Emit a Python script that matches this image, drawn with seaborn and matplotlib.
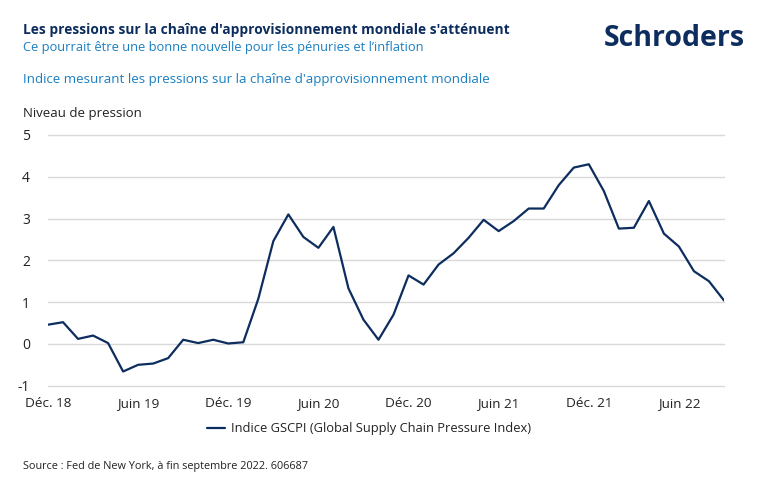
"""
GSCPI - pressions sur la chaîne d'approvisionnement mondiale (Schroders style)
"""
import pandas as pd
import matplotlib.pyplot as plt
import seaborn as sns

sns.set_theme(style="white")
plt.rcParams["font.family"] = ["Open Sans", "DejaVu Sans"]

NAVY = "#0d2d5e"
BLUE = "#1a7fc1"
TEXT = "#222222"

# monthly values, Dec 2018 -> Sep 2022
months = pd.date_range("2018-12-01", "2022-09-01", freq="MS")
gscpi = [0.46, 0.52, 0.12, 0.20, 0.02, -0.66, -0.50, -0.47, -0.34, 0.10, 0.02, 0.10,
         0.01, 0.04, 1.08, 2.46, 3.10, 2.56, 2.30, 2.80, 1.33, 0.58, 0.10, 0.70,
         1.64, 1.42, 1.90, 2.17, 2.54, 2.97, 2.70, 2.94, 3.24, 3.24, 3.80, 4.22,
         4.30, 3.66, 2.76, 2.78, 3.42, 2.64, 2.33, 1.74, 1.50, 1.04]
tick_pos = [0, 6, 12, 18, 24, 30, 36, 42]
tick_labels = ["Déc. 18", "Juin 19", "Déc. 19", "Juin 20", "Déc. 20", "Juin 21", "Déc. 21", "Juin 22"]
y_ticks = [-1, 0, 1, 2, 3, 4, 5]
series_name = "Indice GSCPI (Global Supply Chain Pressure Index)"

df = pd.DataFrame({"idx": range(len(months)), "value": gscpi, "serie": series_name})

fig = plt.figure(figsize=(7.7, 4.92), dpi=100)
ax = fig.add_axes([48 / 770, 1 - 385.7 / 492, (724 - 48) / 770, (385.7 - 135) / 492])

sns.lineplot(data=df, x="idx", y="value", hue="serie", palette=[NAVY], linewidth=1.6, ax=ax)

ax.set_xlim(0, len(months) - 1)
ax.set_ylim(-1, 5)
ax.set_yticks(y_ticks)
ax.set_yticklabels([str(v) for v in y_ticks])
ax.set_xticks(tick_pos)
ax.set_xticklabels(tick_labels)
ax.yaxis.grid(True, color="#d9d9d9", linewidth=1)
for g in ax.get_ygridlines():
    g.set_clip_on(False)
ax.set_axisbelow(True)
for s in ax.spines.values():
    s.set_visible(False)
ax.tick_params(axis="y", length=0, pad=13, labelsize=10, labelcolor=TEXT)
ax.tick_params(axis="x", length=0, pad=8, labelsize=9.7, labelcolor=TEXT)
ax.set_xlabel("")
ax.set_ylabel("")

leg = ax.legend(loc="upper center", bbox_to_anchor=(0.475, -0.1), frameon=False,
                fontsize=9.3, handlelength=1.4, handletextpad=0.5)
for t in leg.get_texts():
    t.set_color(TEXT)

# texts
fig.text(23 / 770, 1 - 30 / 492, "Les pressions sur la chaîne d'approvisionnement mondiale s'atténuent",
         fontsize=9.9, fontweight="bold", color=NAVY, va="center")
fig.text(23 / 770, 1 - 48 / 492, "Ce pourrait être une bonne nouvelle pour les pénuries et l\u2019inflation",
         fontsize=9.3, color=BLUE, va="center")
fig.text(23 / 770, 1 - 80 / 492, "Indice mesurant les pressions sur la chaîne d'approvisionnement mondiale",
         fontsize=9.6, color=BLUE, va="center")
fig.text(23 / 770, 1 - 113 / 492, "Niveau de pression", fontsize=9.5, color=TEXT, va="center")
fig.text(745 / 770, 1 - 38 / 492, "Schroders", fontsize=20.5, fontweight="bold", color=NAVY,
         ha="right", va="center")
fig.text(23 / 770, 1 - 466 / 492, "Source : Fed de New York, à fin septembre 2022. 606687",
         fontsize=7.8, color=TEXT, va="center")

plt.savefig("out.png", dpi=100, facecolor="white")
